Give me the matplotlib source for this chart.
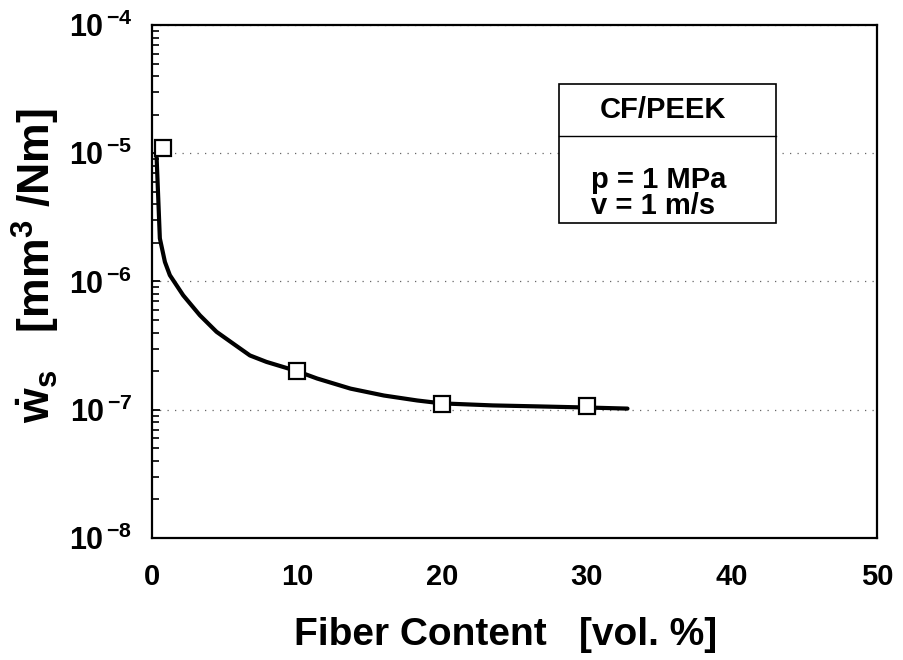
import matplotlib
matplotlib.use("Agg")
import matplotlib.pyplot as plt
from matplotlib.patches import Rectangle
from matplotlib.ticker import FixedLocator, FixedFormatter, LogLocator, NullFormatter

plt.rcParams['font.family'] = ['Liberation Sans', 'DejaVu Sans']
plt.rcParams['font.weight'] = 'bold'
plt.rcParams['mathtext.fontset'] = 'custom'
plt.rcParams['mathtext.rm'] = 'Liberation Sans:bold'
plt.rcParams['mathtext.bf'] = 'Liberation Sans:bold'
plt.rcParams['mathtext.it'] = 'Liberation Sans:bold'

# measured wear rates (squares)
fiber_pts = [0.8, 10, 20, 30]
wear_pts = [1.09e-5, 2.0e-7, 1.1e-7, 1.06e-7]

# trend curve
curve_x = [0.32, 0.44, 0.55, 0.9, 1.24, 2.16, 3.31, 4.46, 5.6, 6.76, 7.9,
           10, 11.4, 13.7, 16, 18.3, 20, 23.5, 26.8, 30, 32.8]
curve_y = [9.7e-6, 4.45e-6, 2.17e-6, 1.42e-6, 1.12e-6, 7.8e-7, 5.45e-7,
           4.05e-7, 3.28e-7, 2.65e-7, 2.36e-7, 2.0e-7, 1.75e-7, 1.46e-7,
           1.29e-7, 1.18e-7, 1.12e-7, 1.08e-7, 1.06e-7, 1.04e-7, 1.02e-7]

x_ticks = [0, 10, 20, 30, 40, 50]
y_exps = [-8, -7, -6, -5, -4]
y_ticks = [10.0 ** e for e in y_exps]
y_labels = [r"$\mathbf{10}^{\,\mathbf{%d}}$" % e for e in y_exps]

fig = plt.figure(figsize=(9.04, 6.6), dpi=100)
ax = fig.add_axes([0.168, 0.185, 0.802, 0.777])

ax.plot(curve_x, curve_y, color='black', lw=3, solid_capstyle='round', zorder=3)
ax.plot(fiber_pts, wear_pts, ls='none', marker='s', ms=11, mfc='white',
        mec='black', mew=1.6, zorder=4)

ax.set_yscale('log')
ax.set_xlim(0, 50)
ax.set_ylim(1e-8, 1e-4)

ax.xaxis.set_major_locator(FixedLocator(x_ticks))
ax.yaxis.set_major_locator(FixedLocator(y_ticks))
ax.yaxis.set_major_formatter(FixedFormatter(y_labels))
ax.yaxis.set_minor_locator(LogLocator(base=10, subs=range(2, 10), numticks=20))
ax.yaxis.set_minor_formatter(NullFormatter())

ax.tick_params(axis='x', length=0, pad=18, labelsize=21)
ax.tick_params(axis='y', which='major', direction='in', length=6, width=1.3,
               pad=14, labelsize=22)
ax.tick_params(axis='y', which='minor', direction='in', length=5, width=1.2)
for lab in ax.get_xticklabels():
    lab.set_fontweight('bold')

for s in ax.spines.values():
    s.set_linewidth(1.6)

ax.yaxis.grid(True, which='major', color='0.4', lw=0.9, ls=(0, (1, 5)))

ax.set_xlabel("Fiber Content   [vol. %]", fontsize=28, fontweight='bold')
ax.xaxis.set_label_coords(0.488, -0.155)
ax.set_ylabel(r"$\dot{\mathbf{w}}_{\mathbf{s}}$   [mm$^{\mathbf{3}}$ /Nm]",
              fontsize=32, fontweight='bold', va='center')
ax.yaxis.set_label_coords(-0.16, 0.53)

# info box
bx0, bx1, by0, by1, bdiv = 0.561, 0.861, 0.614, 0.885, 0.784
ax.add_patch(Rectangle((bx0, by0), bx1 - bx0, by1 - by0, transform=ax.transAxes,
                       fill=True, fc='white', ec='black', lw=1.2, zorder=5))
ax.plot([bx0, bx1], [bdiv, bdiv], transform=ax.transAxes, color='black',
        lw=1.0, zorder=6)
ax.text(0.705, 0.834, "CF/PEEK", transform=ax.transAxes, ha='center',
        va='center', fontsize=21, fontweight='bold', zorder=7)
ax.text(0.605, 0.672, "p = 1 MPa\nv = 1 m/s", transform=ax.transAxes,
        ha='left', va='center', fontsize=21, fontweight='bold',
        linespacing=0.9, zorder=7)

fig.savefig("out.png", dpi=100)
